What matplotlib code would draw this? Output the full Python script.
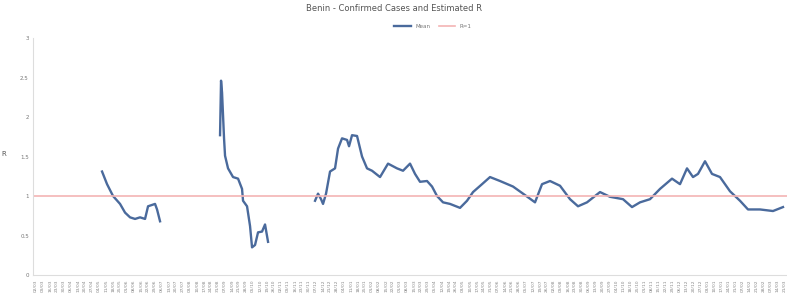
import matplotlib.pyplot as plt
import matplotlib.dates as mdates
import numpy as np
import pandas as pd

# data: days since start date, estimated R
start = "2020-03-01"
seg1_day = [67, 72, 78, 85, 90, 95, 100, 105, 110, 113, 120, 122, 125]
seg1_r = [1.31, 1.15, 1.00, 0.90, 0.79, 0.73, 0.71, 0.73, 0.71, 0.87, 0.90, 0.83, 0.68]

seg2_day = [185, 186, 187, 189, 190, 193, 198, 203, 207, 208, 212, 215, 217, 220, 223, 227, 230, 233]
seg2_r = [1.77, 2.46, 2.31, 1.73, 1.51, 1.35, 1.24, 1.22, 1.09, 0.94, 0.87, 0.62, 0.35, 0.38, 0.54, 0.55, 0.64, 0.42]

seg3_day = [280, 283, 286, 288, 291, 295, 300, 303, 307, 312, 314, 317, 322, 327, 332, 337,
            345, 353, 362, 368, 375, 380, 385, 392, 397, 402, 408, 415, 425, 432, 438, 447,
            455, 465, 478, 488, 500, 507, 515, 525, 535, 543, 552, 565, 575, 588, 597, 605,
            615, 625, 637, 645, 652, 658, 663, 670, 677, 685, 695, 705, 713, 725, 738, 748]
seg3_r = [0.94, 1.03, 0.96, 0.90, 1.03, 1.31, 1.35, 1.60, 1.73, 1.71, 1.63, 1.77, 1.76, 1.50, 1.35, 1.32,
          1.24, 1.41, 1.35, 1.32, 1.41, 1.28, 1.18, 1.19, 1.12, 1.00, 0.92, 0.90, 0.85, 0.94, 1.05, 1.15,
          1.24, 1.19, 1.12, 1.03, 0.92, 1.15, 1.19, 1.13, 0.96, 0.87, 0.92, 1.05, 0.99, 0.96, 0.86, 0.92,
          0.96, 1.09, 1.22, 1.15, 1.35, 1.24, 1.28, 1.44, 1.28, 1.24, 1.06, 0.94, 0.83, 0.83, 0.81, 0.86]

t0 = pd.Timestamp(start)
def to_dates(days):
    return [t0 + pd.Timedelta(days=d) for d in days]

fig = plt.figure(figsize=(7.87, 2.97), dpi=100)
ax = fig.add_axes([0.042, 0.074, 0.958, 0.798])

blue = "#4a6a9c"
first = True
for d, r in [(seg1_day, seg1_r), (seg2_day, seg2_r), (seg3_day, seg3_r)]:
    ax.plot(to_dates(d), r, color=blue, lw=1.7, label="Mean" if first else None)
    first = False
ax.axhline(1, color="#f4b4b4", lw=1.2, label="R=1")

ax.set_xlim(t0 - pd.Timedelta(days=2), t0 + pd.Timedelta(days=752))
ax.set_ylim(0, 3)
ax.set_yticks(np.arange(0, 3.01, 0.5))
ax.set_yticklabels(["0", "0.5", "1", "1.5", "2", "2.5", "3"], fontsize=4, color="#777777")
ax.set_ylabel("R", fontsize=5, color="#555555", rotation=0, labelpad=12)

ax.xaxis.set_major_locator(mdates.WeekdayLocator(byweekday=0))
ax.xaxis.set_major_formatter(mdates.DateFormatter("%d/%m"))
plt.setp(ax.get_xticklabels(), rotation=90, fontsize=3.2, color="#888888")
ax.tick_params(axis="both", length=0, pad=3)

for s in ["top", "right"]:
    ax.spines[s].set_visible(False)
ax.spines["left"].set_color("#dddddd")
ax.spines["bottom"].set_color("#dddddd")

fig.suptitle("Benin - Confirmed Cases and Estimated R", fontsize=6, color="#555555", y=0.985)
fig.legend(loc="upper center", bbox_to_anchor=(0.55, 0.935), ncol=2, frameon=False,
           fontsize=4, labelcolor="#777777", handlelength=3, columnspacing=1.5)

fig.savefig("out.png", dpi=100)
